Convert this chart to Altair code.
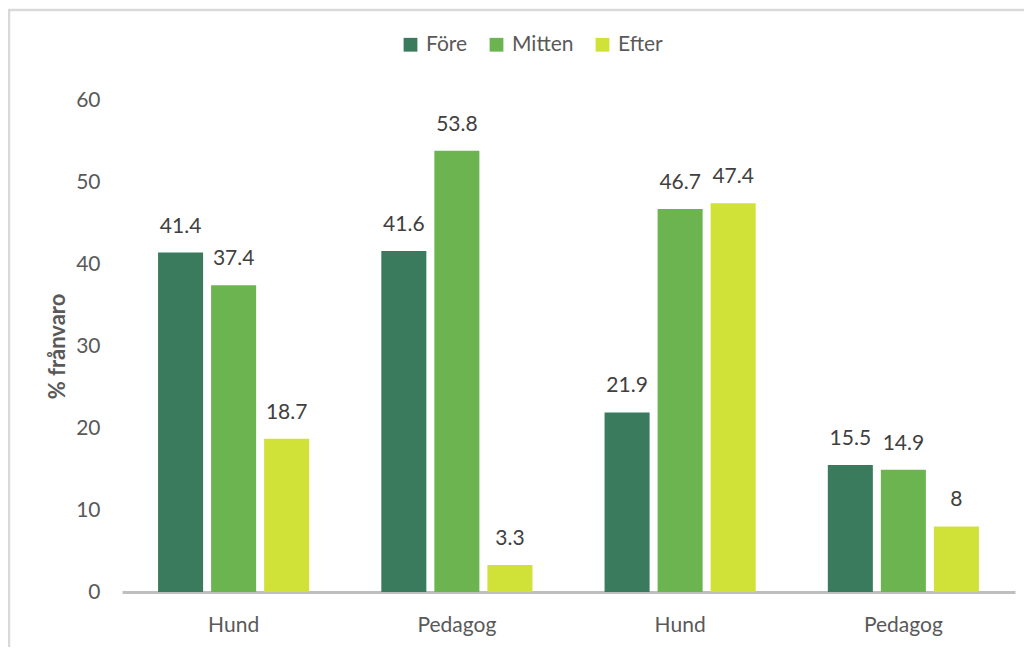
import altair as alt
import pandas as pd

groups = ["g1", "g2", "g3", "g4"]
group_labels = ["Hund", "Pedagog", "Hund", "Pedagog"]
series = ["Före", "Mitten", "Efter"]
fore = [41.4, 41.6, 21.9, 15.5]
mitten = [37.4, 53.8, 46.7, 14.9]
efter = [18.7, 3.3, 47.4, 8]
colors = ["#3a7a5d", "#6cb450", "#d0e137"]

rows = []
for i, g in enumerate(groups):
    for s, vals in zip(series, [fore, mitten, efter]):
        v = vals[i]
        rows.append({"grupp": g, "serie": s, "värde": v, "etikett": f"{v:g}"})
df = pd.DataFrame(rows)

label_expr = "{" + ", ".join(f"'{g}': '{l}'" for g, l in zip(groups, group_labels)) + "}[datum.value]"

FONT = "Lato"
FS = 21

x = alt.X("grupp:N", sort=groups, title=None,
          scale=alt.Scale(paddingInner=0, paddingOuter=0),
          axis=alt.Axis(labelExpr=label_expr, labelAngle=0, ticks=False,
                        domainColor="#bfbfbf", domainWidth=3,
                        labelFontSize=FS, labelColor="#595959", labelPadding=22,
                        labelFont=FONT))
xoff = alt.XOffset("serie:N", sort=series,
                   scale=alt.Scale(paddingInner=0.151, paddingOuter=0.68))
y = alt.Y("värde:Q", title="% frånvaro",
          scale=alt.Scale(domain=[0, 60], nice=False),
          axis=alt.Axis(values=[0, 10, 20, 30, 40, 50, 60], grid=False, domain=False,
                        ticks=False, labelFontSize=FS, labelColor="#595959",
                        labelPadding=22, labelFont=FONT,
                        titleFontSize=22, titleFontWeight="bold", titleColor="#595959",
                        titleFont=FONT, titlePadding=6))
color = alt.Color("serie:N", sort=series,
                  scale=alt.Scale(domain=series, range=colors),
                  legend=alt.Legend(title=None, orient="none", direction="horizontal",
                                    legendX=278, legendY=-66, symbolType="square",
                                    symbolSize=190, symbolStrokeWidth=0,
                                    labelFontSize=FS, labelColor="#595959",
                                    labelFont=FONT, columnPadding=18, labelOffset=5))

bars = alt.Chart(df).mark_bar().encode(x=x, xOffset=xoff, y=y, color=color)
labels = alt.Chart(df).mark_text(baseline="bottom", dy=-16, fontSize=FS,
                                 color="#404040", font=FONT).encode(
    x=alt.X("grupp:N", sort=groups), xOffset=alt.XOffset("serie:N", sort=series),
    y="värde:Q", text="etikett:N")

frame = alt.Chart(pd.DataFrame({"a": [0]})).mark_rect(
    fill="#ffffff", fillOpacity=0, stroke="#d9d9d9", strokeWidth=2.5, clip=False).encode(
    x=alt.value(-113), x2=alt.value(1500), y=alt.value(-90), y2=alt.value(900))

chart = alt.layer(frame, bars, labels).properties(
    width=893, height=492,
    autosize=alt.AutoSizeParams(type="none"),
    padding={"left": 114, "top": 92, "right": 9, "bottom": 55},
).configure_view(stroke=None)

chart.save("out.html", embed_options={"renderer": "svg", "actions": False})
